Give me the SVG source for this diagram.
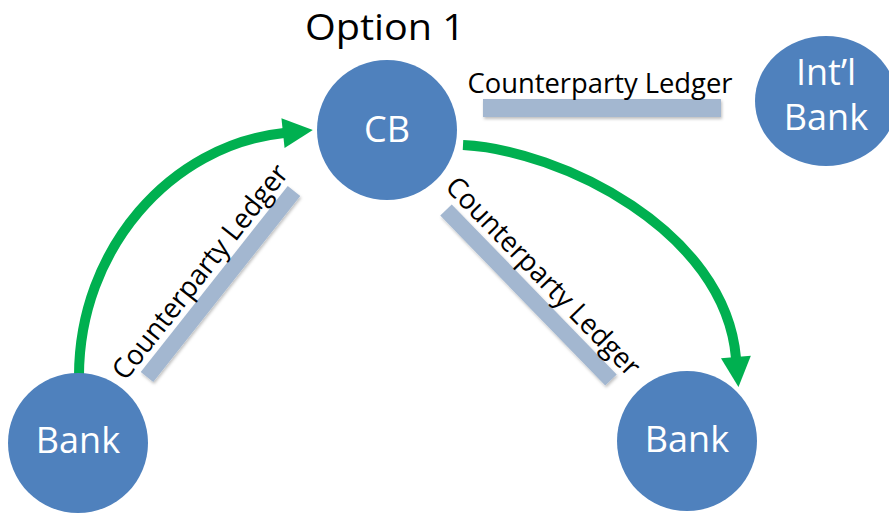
<svg xmlns="http://www.w3.org/2000/svg" width="889" height="515" viewBox="0 0 889 515">
  <style>
    .node { fill: #4f81bd; }
    .nlabel { font-family: "Open Sans", "Liberation Sans", sans-serif; font-size: 36px; fill: #ffffff; text-anchor: middle; }
    .ledger { fill: none; stroke: #a3b7d0; stroke-width: 16; filter: url(#soft); }
    .ledger-box { fill: #a3b7d0; filter: url(#soft); }
    .ltext { font-family: "Open Sans", "Liberation Sans", sans-serif; font-size: 28px; fill: #000000; text-anchor: middle; }
    .title { font-family: "Open Sans", "Liberation Sans", sans-serif; font-size: 37px; fill: #000000; text-anchor: middle; }
    .flow { fill: none; stroke: #00b050; stroke-width: 10; marker-end: url(#head); }
  </style>
  <defs>
    <filter id="soft" x="-20%" y="-40%" width="140%" height="180%">
      <feDropShadow dx="1" dy="2" stdDeviation="1.5" flood-color="#000000" flood-opacity="0.25"/>
    </filter>
    <marker id="head" markerUnits="userSpaceOnUse" markerWidth="32" markerHeight="32" viewBox="0 -16 31 32" refX="1" refY="0" orient="auto">
      <polygon points="0,-15 30,0 0,15" fill="#00b050"/>
    </marker>
  </defs>

  <rect width="889" height="515" fill="#ffffff"/>

  <text class="title" x="385" y="40" textLength="160" lengthAdjust="spacingAndGlyphs">Option 1</text>

  <!-- ledger bars with their labels -->
  <g id="ledger-top">
    <rect class="ledger-box" x="483" y="99" width="238" height="18"/>
    <text class="ltext" x="600" y="93" textLength="265" lengthAdjust="spacingAndGlyphs">Counterparty Ledger</text>
  </g>
  <g id="ledger-left">
    <line class="ledger" x1="147" y1="377" x2="294" y2="191"/>
    <text class="ltext" transform="translate(207.6 277.7) rotate(-51.7)" x="0" y="0" textLength="265" lengthAdjust="spacingAndGlyphs">Counterparty Ledger</text>
  </g>
  <g id="ledger-right">
    <line class="ledger" x1="446" y1="210" x2="611" y2="380"/>
    <text class="ltext" transform="translate(536.4 283.1) rotate(45.8)" x="0" y="0" textLength="265" lengthAdjust="spacingAndGlyphs">Counterparty Ledger</text>
  </g>

  <!-- payment flows -->
  <g id="connectors">
    <path class="flow" d="M79,376 C79,250 170,145 284,133"/>
    <path class="flow" d="M463,145 C560,150 725,230 736,358"/>
  </g>

  <g id="cb">
    <circle class="node" cx="387" cy="130" r="70"/>
    <text class="nlabel" x="387" y="142">CB</text>
  </g>
  <g id="intl-bank">
    <ellipse class="node" cx="826" cy="101" rx="71" ry="65"/>
    <text class="nlabel" x="826" y="85">Int’l</text>
    <text class="nlabel" x="826" y="130">Bank</text>
  </g>
  <g id="bank-left">
    <circle class="node" cx="78" cy="443" r="70"/>
    <text class="nlabel" x="78" y="453">Bank</text>
  </g>
  <g id="bank-right">
    <circle class="node" cx="687" cy="441" r="70"/>
    <text class="nlabel" x="687" y="452">Bank</text>
  </g>
</svg>
